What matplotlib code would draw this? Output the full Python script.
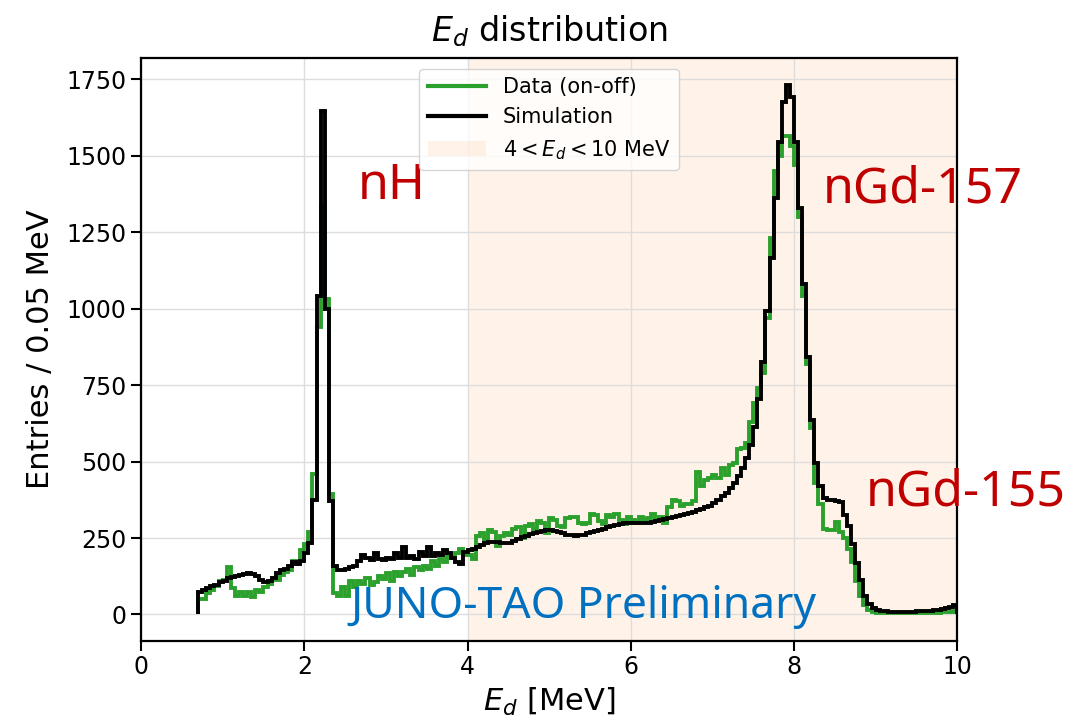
import numpy as np
import matplotlib
matplotlib.use('Agg')
import matplotlib.pyplot as plt
from matplotlib.lines import Line2D

# histogram binning (MeV)
e_lo = 0.7
bin_w = 0.05

sim = [72, 80, 85, 92, 95, 105, 110, 118, 122, 125,
       128, 132, 135, 133, 125, 112, 105, 110, 120, 135,
       145, 150, 158, 170, 165, 175, 200, 235, 375, 1040,
       1645, 1000, 370, 160, 145, 145, 150, 155, 160, 175,
       195, 185, 178, 200, 180, 178, 185, 180, 200, 185,
       222, 185, 190, 180, 205, 190, 222, 190, 200, 195,
       210, 200, 185, 170, 165, 205, 210, 215, 222, 228,
       235, 238, 238, 236, 234, 233, 235, 240, 246, 252,
       258, 263, 268, 271, 274, 276, 276, 273, 269, 265,
       261, 259, 258, 259, 261, 265, 269, 273, 277, 281,
       285, 289, 293, 296, 298, 299, 299, 298, 298, 299,
       300, 302, 305, 308, 312, 316, 319, 321, 324, 327,
       331, 335, 340, 344, 350, 356, 364, 374, 386, 398,
       412, 430, 452, 478, 510, 555, 614, 706, 825, 993,
       1166, 1360, 1544, 1674, 1730, 1690, 1544, 1328, 1079, 841,
       636, 495, 420, 380, 375, 375, 372, 368, 326, 288,
       229, 169, 114, 60, 33, 22, 15, 12, 10, 9,
       9, 8, 8, 8, 9, 9, 10, 10, 11, 12,
       14, 16, 19, 22, 26, 32]

data = [50, 50, 70, 80, 92, 110, 112, 155, 88, 62,
        75, 60, 72, 58, 80, 72, 90, 100, 118, 112,
        130, 138, 145, 175, 170, 210, 230, 270, 460, 940,
        1340, 1030, 395, 70, 60, 90, 62, 110, 90, 110,
        100, 120, 95, 105, 125, 115, 135, 110, 140, 125,
        140, 150, 130, 155, 145, 160, 150, 175, 160, 180,
        170, 195, 185, 200, 215, 195, 195, 180, 255, 265,
        245, 275, 270, 225, 255, 265, 260, 280, 285, 250,
        290, 295, 280, 305, 300, 265, 315, 310, 290, 285,
        315, 320, 320, 300, 295, 300, 330, 325, 305, 295,
        325, 320, 330, 310, 295, 320, 310, 300, 320, 305,
        315, 330, 310, 320, 300, 350, 375, 370, 355, 360,
        360, 370, 465, 420, 440, 445, 455, 445, 480, 455,
        490, 495, 540, 545, 560, 630, 690, 740, 790, 970,
        1230, 1450, 1500, 1565, 1565, 1530, 1470, 1300, 1040, 820,
        610, 430, 360, 280, 275, 275, 302, 270, 250, 215,
        170, 110, 62, 32, 15, 8, 6, 5, 5, 4,
        4, 4, 5, 4, 5, 4, 5, 5, 6, 5,
        6, 6, 7, 8, 9, 10]

edges = np.round(e_lo + bin_w*np.arange(len(sim)+1), 3)

fig = plt.figure(figsize=(10.89, 7.2), dpi=100)
ax = fig.add_axes([0.1295, 0.110, 0.7495, 0.809])

ax.axvspan(4, 10, color='C1', alpha=0.09, lw=0, zorder=0)
ax.stairs(data, edges, baseline=0, color='#2ca02c', lw=2.8, zorder=2)
ax.stairs(sim, edges, baseline=0, color='k', lw=2.8, zorder=3)

ax.set_xlim(0, 10)
ax.set_ylim(-86, 1818)
ax.grid(True, color='#dddddd', lw=1.0, zorder=1)
ax.set_axisbelow(True)
ax.set_xticks([0, 2, 4, 6, 8, 10])
ax.set_yticks([0, 250, 500, 750, 1000, 1250, 1500, 1750])
ax.tick_params(labelsize=17, length=7, width=1.5, direction='out')
for s in ax.spines.values():
    s.set_linewidth(1.6)

ax.set_xlabel(r'$E_d$ [MeV]', fontsize=22, labelpad=5)
ax.set_ylabel('Entries / 0.05 MeV', fontsize=22, labelpad=8)
ax.set_title(r'$E_d$ distribution', fontsize=24, pad=12)

red = '#c00000'
ax.text(2.66, 1400, 'nH', color=red, fontsize=36, family='Noto Sans', va='center')
ax.text(8.35, 1390, 'nGd-157', color=red, fontsize=36, family='Noto Sans', va='center')
ax.text(8.88, 400, 'nGd-155', color=red, fontsize=36, family='Noto Sans', va='center')
ax.text(2.56, 25, 'JUNO-TAO Preliminary', color='#0070c0', fontsize=32,
        family='Noto Sans', va='center')

handles = [Line2D([], [], color='#2ca02c', lw=3),
           Line2D([], [], color='k', lw=3),
           plt.Rectangle((0, 0), 1, 1, color='C1', alpha=0.09, lw=0)]
labels = ['Data (on-off)', 'Simulation', r'$4 < E_d < 10$ MeV']
ax.legend(handles, labels, loc='upper center', fontsize=15, handlelength=2.8)

fig.savefig('out.png', dpi=100)
